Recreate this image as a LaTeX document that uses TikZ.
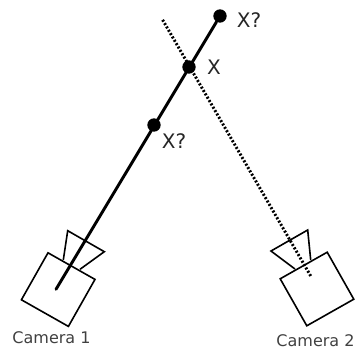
\documentclass[tikz,border=0pt]{standalone}
\usepackage{fontspec}
\setmainfont{DejaVu Sans}
\usetikzlibrary{calc}

\begin{document}
\begin{tikzpicture}[
    x=0.75pt, y=-0.75pt,
    % Styles
    body/.style={
        draw=black, line width=1.2pt, fill=none,
        minimum size=40.5pt, inner sep=0pt, rotate=#1,
    },
    lens/.style={draw=black, line width=1.2pt, line join=miter},
    ray/.style={draw=black, line width=2.2pt, line cap=round},
    dottedray/.style={draw=black, line width=2.2pt, dash pattern=on 1.5pt off 1.4pt},
    point/.style={circle, fill=black, minimum size=10pt, inner sep=0pt},
    ptlbl/.style={font=\fontsize{15}{18}\selectfont, text=black!85, inner sep=0pt},
    camlbl/.style={font=\fontsize{12}{14}\selectfont, text=black!75, inner sep=0pt},
]
\useasboundingbox (0,0) rectangle (355,351);

% ================================================================
% POINTS
% ================================================================
\node[point] (far) at (220,16) {};
\node[point] (x) at (189,67) {};
\node[point] (near) at (154,125) {};

\node[ptlbl] (farlbl) at (249,20) {X?};
\node[ptlbl] (xlbl) at (214,67) {X};
\node[ptlbl] (nearlbl) at (174,141) {X?};

% ================================================================
% CAMERA 1
% ================================================================
\node[body=-29.5] (cam1) at (58.2,289.6) {};
\coordinate (lens1a) at (63.3,260);
\coordinate (lens1b) at (67.7,230.7);
\coordinate (lens1c) at (104.3,251.7);
\coordinate (lens1d) at (80,269.3);
\draw[lens] (lens1a) -- (lens1b) -- (lens1c) -- (lens1d);
\node[camlbl] (cam1lbl) at (51.5,338) {Camera 1};

% ================================================================
% CAMERA 2
% ================================================================
\node[body=29.5] (cam2) at (317,289) {};
\coordinate (lens2a) at (310.7,260);
\coordinate (lens2b) at (307.7,230);
\coordinate (lens2c) at (271,251);
\coordinate (lens2d) at (295,269);
\draw[lens] (lens2a) -- (lens2b) -- (lens2c) -- (lens2d);
\node[camlbl] (cam2lbl) at (315.5,341) {Camera 2};

% ================================================================
% RAYS
% ================================================================
\coordinate (ray1start) at (56,289.3);
\coordinate (ray2start) at (310.7,276);
\coordinate (ray2end) at (161.7,18.3);

% Camera 1 -> far candidate
\draw[ray] (ray1start) -- (far);

% Camera 2 -> beyond X
\draw[dottedray] (ray2start) -- (ray2end);

\end{tikzpicture}
\end{document}
